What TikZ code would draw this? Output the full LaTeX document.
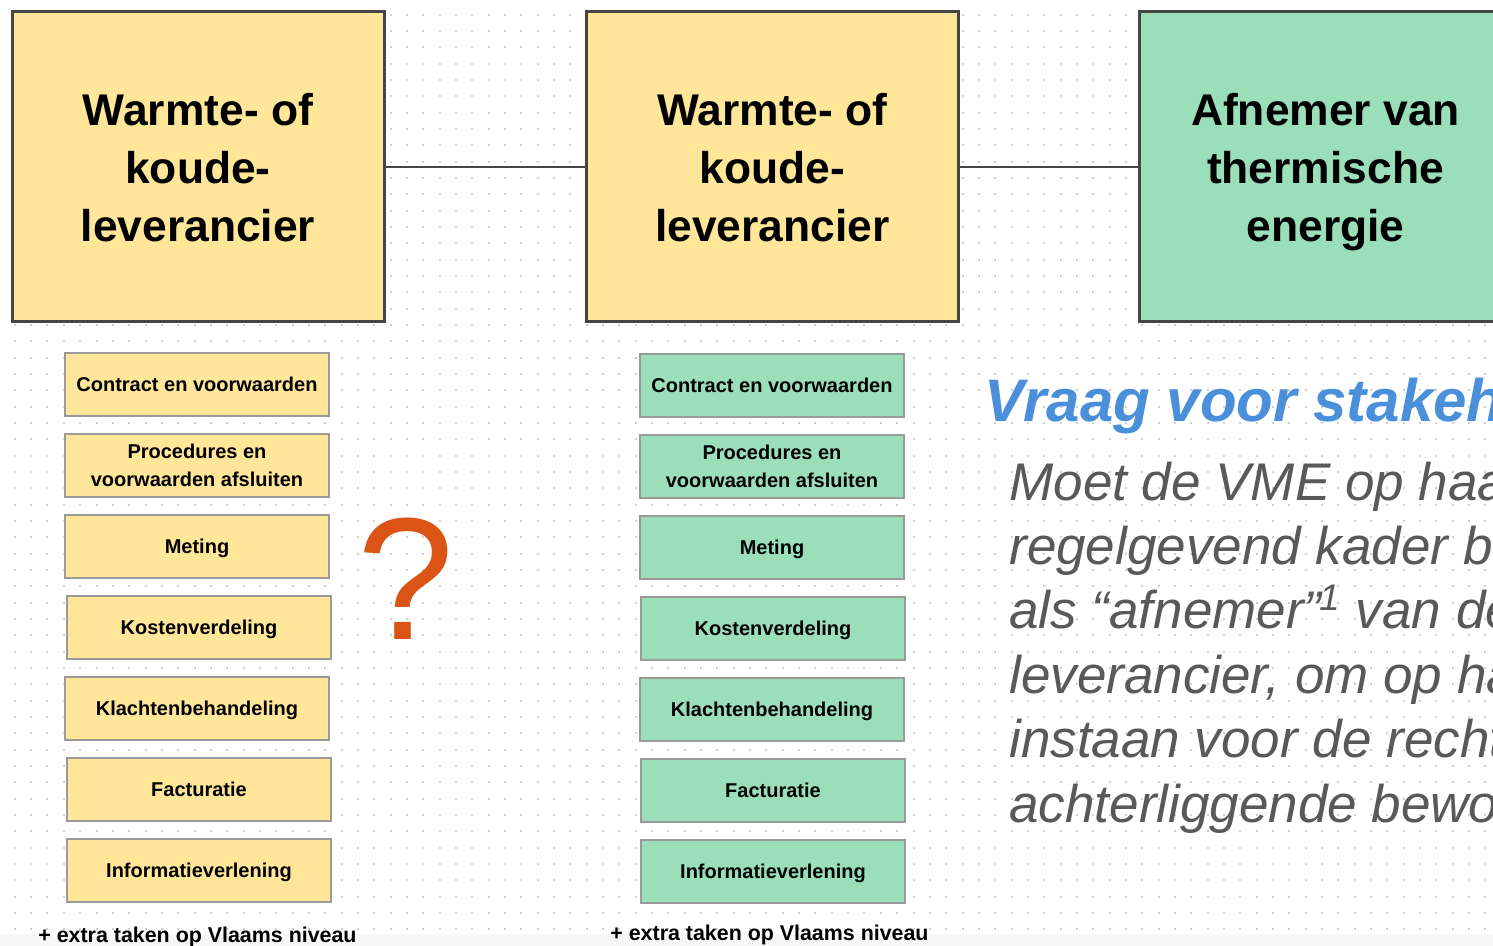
\documentclass[tikz,border=0pt]{standalone}
\usepackage{fontspec}
\setmainfont{Liberation Sans}
\definecolor{yel}{HTML}{FFE699}
\definecolor{grn}{HTML}{9ADFBA}
\definecolor{edge}{HTML}{454545}
\definecolor{sedge}{HTML}{9A9A9A}
\definecolor{dotc}{HTML}{CFCFCF}
\definecolor{qcol}{HTML}{DC5316}
\definecolor{titleblue}{HTML}{4A8FDA}
\definecolor{bodygray}{HTML}{595959}
\definecolor{band}{HTML}{F7F7F7}
\begin{document}
\begin{tikzpicture}[x=0.5pt,y=-0.5pt,
  bigbox/.style={draw=edge, line width=1.5pt, minimum width=186pt, minimum height=155pt,
    inner sep=0pt, align=center, font=\fontsize{22.2}{29}\selectfont\bfseries, text depth=0pt},
  smallbox/.style={draw=sedge, line width=0.75pt, minimum width=132pt, minimum height=31.5pt,
    inner sep=0pt, align=center, font=\fontsize{10}{13.7}\selectfont\bfseries},
  oneline/.style={text height=7.2pt, text depth=0pt},
  conn/.style={draw=edge, line width=1pt},
  dotrow/.style={draw=dotc, line width=1pt, dash pattern=on 1pt off 7.17pt},
  body/.style={anchor=base west, inner sep=0pt, text=bodygray, font=\fontsize{26.5}{32}\selectfont\itshape},
  titletext/.style={anchor=base west, inner sep=0pt, text=titleblue, font=\fontsize{30}{36}\selectfont\bfseries\itshape},
  extra/.style={anchor=base west, inner sep=0pt, font=\fontsize{10.7}{13}\selectfont\bfseries}
]
\useasboundingbox (0,0) rectangle (1493,946);
\begin{scope}
\clip (0,0) rectangle (1493,946);
\fill[white] (0,0) rectangle (1493,946);
% dotted grid
\foreach \j in {0,...,57}{
  \draw[dotrow] (13.8,{14.8+\j*16.33}) -- (1493,{14.8+\j*16.33});
}
\fill[band] (0,934) rectangle (1493,946);

% big boxes
\node[bigbox, fill=yel] (lev1) at (198,167) {Warmte- of\\koude-\\leverancier};
\node[bigbox, fill=yel] (lev2) at (772.5,167) {Warmte- of\\koude-\\leverancier};
\node[bigbox, fill=grn] (afn) at (1325.5,167) {Afnemer van\\thermische\\energie};
\draw[conn] (lev1.east) -- (lev2.west);
\draw[conn] (lev2.east) -- (afn.west);

% left column
\node[smallbox, oneline, fill=yel] (l1) at (197,384.5) {Contract en voorwaarden};
\node[smallbox, fill=yel] (l2) at (197,465.5) {Procedures en\\voorwaarden afsluiten};
\node[smallbox, oneline, fill=yel] (l3) at (197,546.5) {Meting};
\node[smallbox, oneline, fill=yel] (l4) at (199,627.5) {Kostenverdeling};
\node[smallbox, oneline, fill=yel] (l5) at (197,708.5) {Klachtenbehandeling};
\node[smallbox, oneline, fill=yel] (l6) at (199,789.5) {Facturatie};
\node[smallbox, oneline, fill=yel] (l7) at (199,870.5) {Informatieverlening};

% middle column
\node[smallbox, oneline, fill=grn] (m1) at (772,385.5) {Contract en voorwaarden};
\node[smallbox, fill=grn] (m2) at (772,466.5) {Procedures en\\voorwaarden afsluiten};
\node[smallbox, oneline, fill=grn] (m3) at (772,547.5) {Meting};
\node[smallbox, oneline, fill=grn] (m4) at (773,628.5) {Kostenverdeling};
\node[smallbox, oneline, fill=grn] (m5) at (772,709.5) {Klachtenbehandeling};
\node[smallbox, oneline, fill=grn] (m6) at (773,790.5) {Facturatie};
\node[smallbox, oneline, fill=grn] (m7) at (773,871.5) {Informatieverlening};

% question mark
\node[inner sep=0pt, text=qcol, font=\fontsize{87}{90}\selectfont, text depth=0pt] (q) at (406,578.5) {?};

% bottom labels
\node[extra] (ex1) at (38,942) {+ extra taken op Vlaams niveau};
\node[extra] (ex2) at (610,940) {+ extra taken op Vlaams niveau};

% right text
\node[titletext] (title) at (984,422) {Vraag voor stakeholders};
\node[body] (b1) at (1009,500) {Moet de VME op haar};
\node[body] (b2) at (1009,564) {regelgevend kader beschouwd};
\node[body] (b3) at (1009,628.5) {als “afnemer”\kern-1pt\textsuperscript{1} van de};
\node[body] (b4) at (1009,693) {leverancier, om op haar};
\node[body] (b5) at (1009,757.5) {instaan voor de rechten};
\node[body] (b6) at (1009,822) {achterliggende bewoners};
\end{scope}
\end{tikzpicture}
\end{document}
